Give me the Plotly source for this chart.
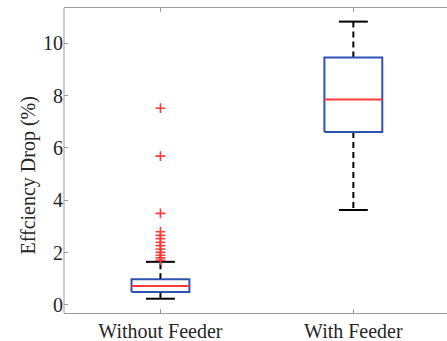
import plotly.graph_objects as go

categories = ["Without Feeder", "With Feeder"]
positions = [1, 2]
q1 = [0.50, 6.61]
median = [0.73, 7.85]
q3 = [0.98, 9.46]
lower_whisker = [0.24, 3.63]
upper_whisker = [1.65, 10.83]
outliers_without = [7.52, 5.69, 3.50, 2.80, 2.66, 2.53, 2.40, 2.27, 2.14, 2.01, 1.90, 1.80, 1.71]
outlier_positions = [1] * len(outliers_without)

y_ticks = [0, 2, 4, 6, 8, 10]

BOX_HALF = 0.15
CAP_HALF = 0.075
BLUE = "#2f52b5"
RED = "#ff3a3a"
AXIS = "#9a9a9a"
FONT = "Liberation Serif, Times New Roman, serif"

fig = go.Figure()

for i, p in enumerate(positions):
    fig.add_trace(go.Scatter(
        x=[p, p, None, p, p],
        y=[q3[i], upper_whisker[i], None, q1[i], lower_whisker[i]],
        mode="lines", line=dict(color="black", width=2, dash="6px,4px"),
        hoverinfo="skip", showlegend=False))
    fig.add_trace(go.Scatter(
        x=[p - CAP_HALF, p + CAP_HALF, None, p - CAP_HALF, p + CAP_HALF],
        y=[upper_whisker[i], upper_whisker[i], None, lower_whisker[i], lower_whisker[i]],
        mode="lines", line=dict(color="black", width=2),
        hoverinfo="skip", showlegend=False))
    fig.add_trace(go.Scatter(
        x=[p - BOX_HALF, p + BOX_HALF, p + BOX_HALF, p - BOX_HALF, p - BOX_HALF],
        y=[q1[i], q1[i], q3[i], q3[i], q1[i]],
        mode="lines", line=dict(color=BLUE, width=2),
        hoverinfo="skip", showlegend=False))
    fig.add_trace(go.Scatter(
        x=[p - BOX_HALF, p + BOX_HALF],
        y=[median[i], median[i]],
        mode="lines", line=dict(color=RED, width=2),
        hoverinfo="skip", showlegend=False))

fig.add_trace(go.Scatter(
    x=outlier_positions, y=outliers_without, mode="markers",
    marker=dict(symbol="cross-thin", size=7, line=dict(color=RED, width=1.6)),
    showlegend=False))

fig.add_annotation(
    text="Effciency Drop (%)", textangle=-90,
    xref="paper", yref="paper", x=-0.092, y=0.45,
    xanchor="center", yanchor="middle", showarrow=False,
    font=dict(family=FONT, size=20, color="#262626"))

# left frame line
fig.add_shape(type="line", xref="paper", yref="paper", x0=0, x1=0, y0=0, y1=1,
              line=dict(color=AXIS, width=1))
# the reference's right frame edge lies outside the picture: mask the plot's right edge
fig.add_shape(type="line", xref="paper", yref="paper", x0=1, x1=1, y0=0.006, y1=0.994,
              line=dict(color="white", width=5), layer="above")

fig.update_layout(
    width=447, height=341,
    margin=dict(l=64, r=0, t=8, b=28),
    paper_bgcolor="white", plot_bgcolor="white",
    font=dict(family=FONT, size=20, color="#262626"),
    showlegend=False,
    xaxis=dict(
        range=[0.5, 2.4855], tickvals=positions, ticktext=categories,
        showline=True, linecolor=AXIS, linewidth=1, mirror="ticks",
        ticks="inside", ticklen=4, tickcolor=AXIS,
        showgrid=False, zeroline=False, tickfont=dict(family=FONT, size=20, color="#262626")),
    yaxis=dict(
        range=[-0.306, 11.35], tickvals=y_ticks,
        showline=False, mirror=False,
        ticks="inside", ticklen=4, tickcolor=AXIS,
        showgrid=False, zeroline=False, tickfont=dict(family=FONT, size=20, color="#262626")),
)

fig.write_html(
    "out.html",
    config={"displayModeBar": False},
    post_script="document.body.style.margin='0';document.body.style.padding='0';document.body.style.overflow='hidden';",
)
